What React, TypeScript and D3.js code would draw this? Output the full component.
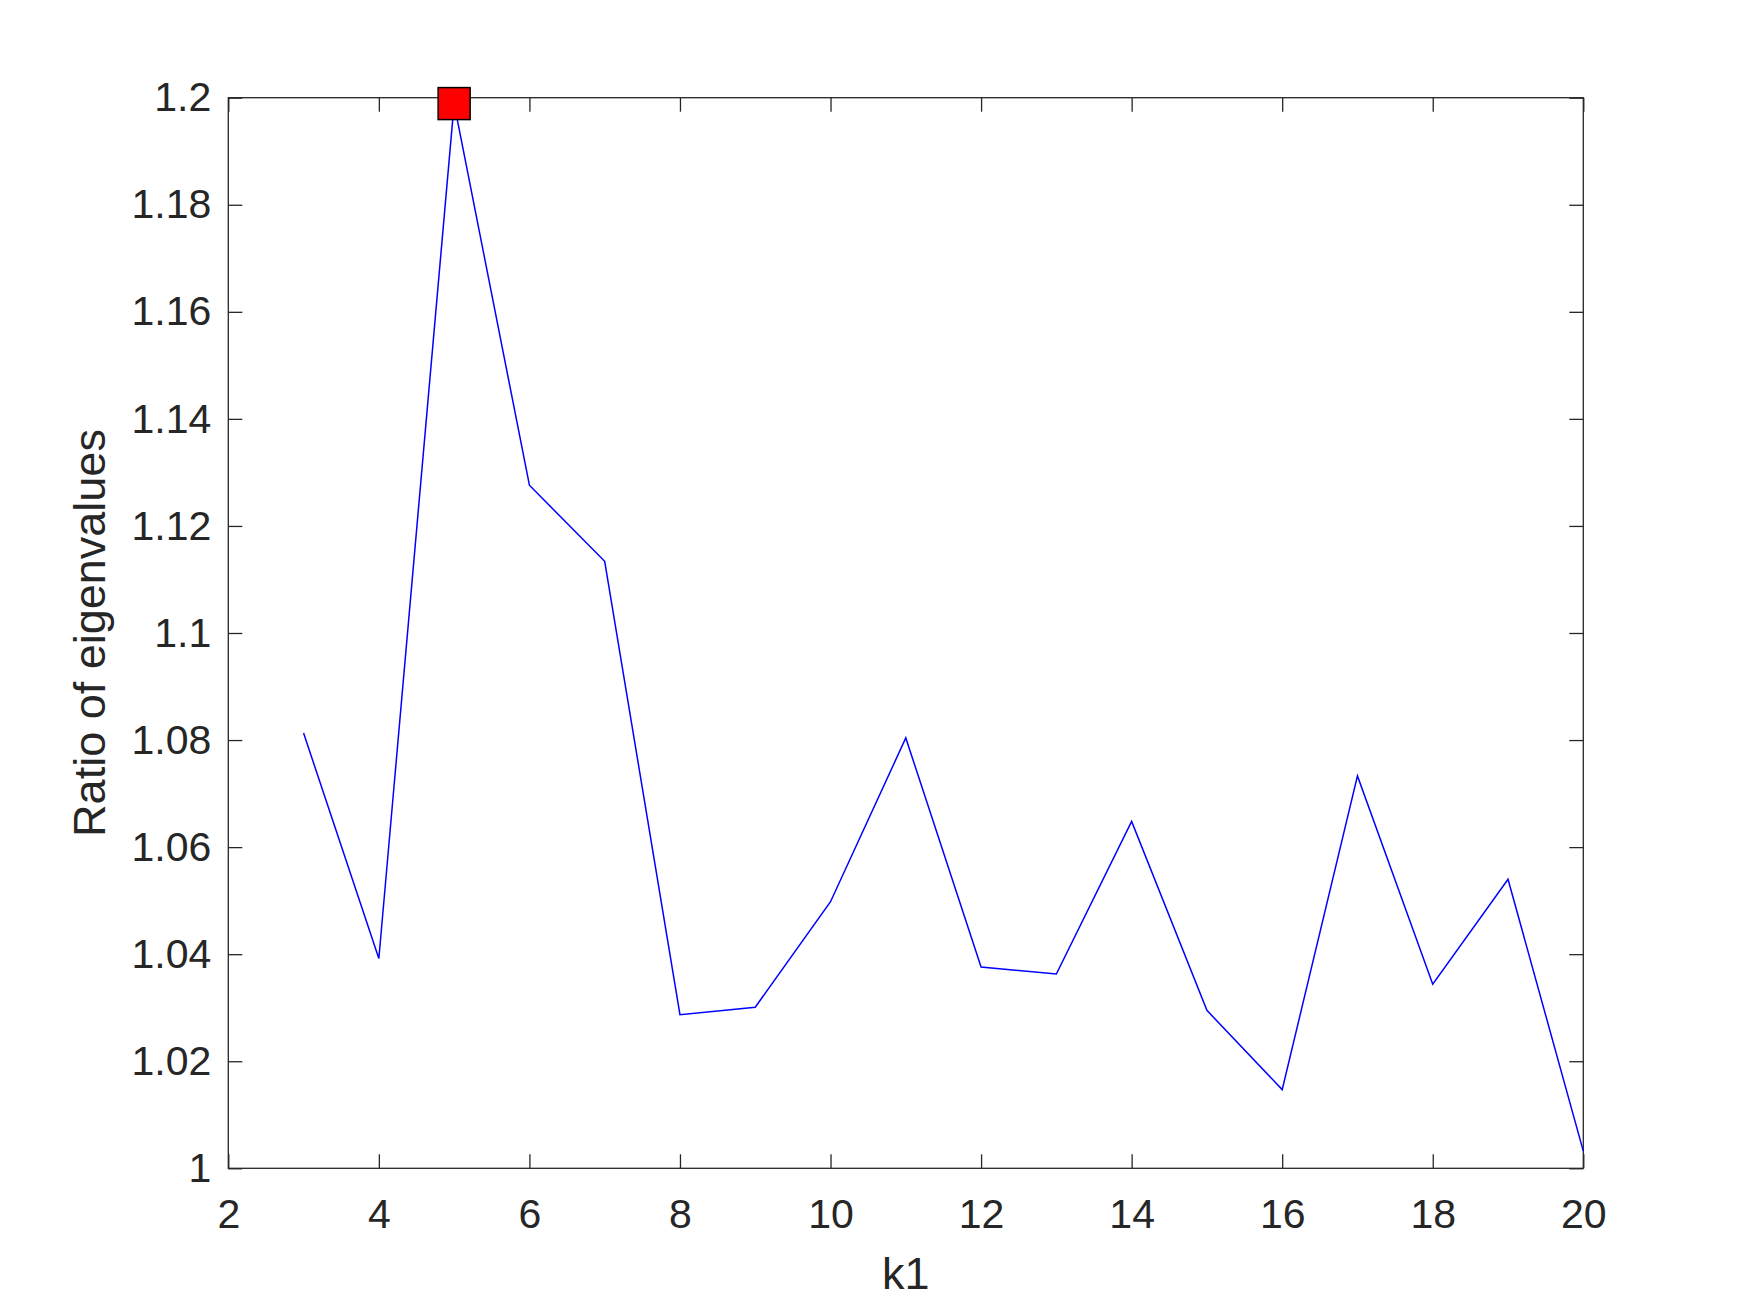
import React, { useRef, useEffect } from "react";
import * as d3 from "d3";

// k1 values and the ratio
const k1 = [3, 4, 5, 6, 7, 8, 9, 10, 11, 12, 13, 14, 15, 16, 17, 18, 19, 20];
const ratio = [
  1.0813, 1.0392, 1.1989, 1.1276, 1.1134, 1.0287, 1.0301, 1.0498, 1.0804,
  1.0376, 1.0363, 1.0648, 1.0295, 1.0147, 1.0733, 1.0344, 1.054, 1.0032,
];

const xTicks = [2, 4, 6, 8, 10, 12, 14, 16, 18, 20];
const yTicks = [1, 1.02, 1.04, 1.06, 1.08, 1.1, 1.12, 1.14, 1.16, 1.18, 1.2];
const yTickLabels = ["1", "1.02", "1.04", "1.06", "1.08", "1.1", "1.12", "1.14", "1.16", "1.18", "1.2"];

const xLabel = "k1";
const yLabel = "Ratio of eigenvalues";

export default function App() {
  const ref = useRef<SVGSVGElement>(null);

  useEffect(() => {
    const width = 1750, height = 1313;
    const margin = { top: 97.7, right: 166.7, bottom: 144.7, left: 228.3 };
    const ink = "#262626";
    const font = "'Liberation Sans', Arial, Helvetica, sans-serif";

    const svg = d3.select(ref.current);
    svg.selectAll("*").remove();
    svg.attr("width", width).attr("height", height);

    svg.append("rect").attr("width", width).attr("height", height).attr("fill", "#fff");

    const x = d3.scaleLinear().domain([2, 20]).range([margin.left, width - margin.right]);
    const y = d3.scaleLinear().domain([1, 1.2]).range([height - margin.bottom, margin.top]);

    const tickLen = 14;

    // bottom axis + labels
    const gx = svg.append("g")
      .attr("transform", `translate(0,${y(1)})`)
      .call(d3.axisBottom(x).tickValues(xTicks).tickSize(-tickLen).tickPadding(31).tickFormat(d => String(d)));
    // top axis ticks only
    const gxt = svg.append("g")
      .attr("transform", `translate(0,${y(1.2)})`)
      .call(d3.axisTop(x).tickValues(xTicks).tickSize(-tickLen).tickFormat(() => ""));
    // left axis + labels
    const gy = svg.append("g")
      .attr("transform", `translate(${x(2)},0)`)
      .call(d3.axisLeft(y).tickValues(yTicks).tickSize(-tickLen).tickPadding(17)
        .tickFormat((d, i) => yTickLabels[i]));
    // right axis ticks only
    const gyr = svg.append("g")
      .attr("transform", `translate(${x(20)},0)`)
      .call(d3.axisRight(y).tickValues(yTicks).tickSize(-tickLen).tickFormat(() => ""));

    [gx, gxt, gy, gyr].forEach(g => {
      g.select(".domain").remove();
      g.selectAll("line").attr("stroke", ink).attr("stroke-width", 1.3);
      g.selectAll("text").attr("fill", ink).attr("font-family", font).attr("font-size", 41);
    });

    // box
    svg.append("rect")
      .attr("x", x(2)).attr("y", y(1.2))
      .attr("width", x(20) - x(2)).attr("height", y(1) - y(1.2))
      .attr("fill", "none").attr("stroke", ink).attr("stroke-width", 1.3);

    const pts = k1.map((k, i) => [k, ratio[i]] as [number, number]);

    svg.append("path")
      .datum(pts)
      .attr("fill", "none")
      .attr("stroke", "#0000ff")
      .attr("stroke-width", 1.5)
      .attr("d", d3.line<[number, number]>().x(d => x(d[0])).y(d => y(d[1])));

    // highlight the maximum
    const iMax = d3.maxIndex(ratio);
    const s = 32;
    svg.append("rect")
      .attr("x", x(k1[iMax]) - s / 2)
      .attr("y", y(ratio[iMax]) - s / 2)
      .attr("width", s).attr("height", s)
      .attr("fill", "#ff0000")
      .attr("stroke", "#000").attr("stroke-width", 1.5);

    // axis titles
    svg.append("text")
      .attr("x", (x(2) + x(20)) / 2)
      .attr("y", 1289)
      .attr("text-anchor", "middle")
      .attr("fill", ink).attr("font-family", font).attr("font-size", 45)
      .text(xLabel);

    svg.append("text")
      .attr("transform", `translate(105,${(y(1) + y(1.2)) / 2}) rotate(-90)`)
      .attr("text-anchor", "middle")
      .attr("fill", ink).attr("font-family", font).attr("font-size", 45)
      .text(yLabel);
  }, []);

  return <svg ref={ref} style={{ position: "absolute", left: 0, top: 0 }}></svg>;
}
